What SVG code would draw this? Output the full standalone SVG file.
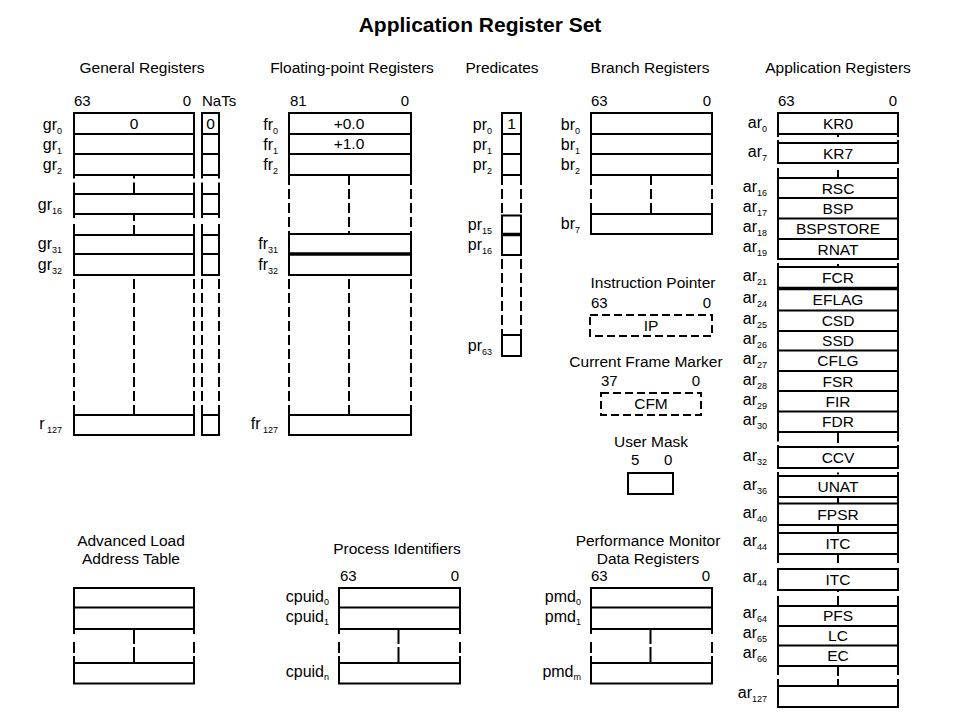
<svg xmlns="http://www.w3.org/2000/svg" width="960" height="720" viewBox="0 0 960 720">
<style>
.b{fill:none;stroke:#000;stroke-width:2}
.k{fill:none;stroke:#000;stroke-width:3.5}
.d{fill:none;stroke:#000;stroke-width:2;stroke-dasharray:10 4}
.db{fill:none;stroke:#000;stroke-width:2;stroke-dasharray:8 4}
text{font-family:"Liberation Sans",Arial,sans-serif;fill:#000}
.h{font-size:15.5px;text-anchor:middle}
.n{font-size:15px}
.e{text-anchor:end}
.l{font-size:16px;text-anchor:end}
.s{font-size:9px}
.c{font-size:15.5px;text-anchor:middle}
</style>
<rect width="960" height="720" fill="#fff"/>
<text x="480" y="32" font-size="21" font-weight="bold" text-anchor="middle">Application Register Set</text>

<g id="general-registers">
<text class="h" x="142" y="73">General Registers</text>
<text class="n" x="74" y="106">63</text>
<text class="n e" x="191" y="106">0</text>
<text class="n" x="202" y="106">NaTs</text>
<rect class="b" x="74" y="113" width="120" height="62"/>
<path class="b" d="M74 134H194M74 154H194"/>
<path class="b" d="M74 175V178.5M74 182.5V194M134 175V178.5M134 182.5V194M194 175V178.5M194 182.5V194"/>
<rect class="b" x="74" y="194" width="120" height="20"/>
<path class="b" d="M74 214V218M74 224V235M134 214V221M134 225V235M194 214V218M194 224V235"/>
<rect class="b" x="74" y="235" width="120" height="40"/>
<path class="b" d="M74 254H194"/>
<path class="d" d="M74 279V415M134 279V415M194 279V415"/>
<rect class="b" x="74" y="415" width="120" height="20"/>
<text class="c" x="134" y="129">0</text>
<rect class="b" x="202" y="113" width="17" height="62"/>
<path class="b" d="M202 134H219M202 154H219"/>
<path class="b" d="M202 175V178.5M202 182.5V194M219 175V178.5M219 182.5V194"/>
<rect class="b" x="202" y="194" width="17" height="20"/>
<path class="b" d="M202 214V218M202 224V235M219 214V218M219 224V235"/>
<rect class="b" x="202" y="235" width="17" height="40"/>
<path class="b" d="M202 254H219"/>
<path class="d" d="M202 279V415M219 279V415"/>
<rect class="b" x="202" y="415" width="17" height="20"/>
<text class="c" x="210.5" y="129">0</text>
<text class="l" x="62" y="130">gr<tspan class="s" dy="3.5">0</tspan></text>
<text class="l" x="62" y="150">gr<tspan class="s" dy="3.5">1</tspan></text>
<text class="l" x="62" y="170">gr<tspan class="s" dy="3.5">2</tspan></text>
<text class="l" x="62" y="210">gr<tspan class="s" dy="3.5">16</tspan></text>
<text class="l" x="62" y="249">gr<tspan class="s" dy="3.5">31</tspan></text>
<text class="l" x="62" y="270">gr<tspan class="s" dy="3.5">32</tspan></text>
<text class="l" x="62" y="429">r<tspan class="s" dy="3.5"> 127</tspan></text>
</g>

<g id="floating-point-registers">
<text class="h" x="352" y="73">Floating-point Registers</text>
<text class="n" x="290" y="106">81</text>
<text class="n e" x="409" y="106">0</text>
<rect class="b" x="289" y="113" width="122" height="62"/>
<path class="b" d="M289 134H411M289 154H411"/>
<path class="d" d="M289 175V234M349 175V234M411 175V234"/>
<rect class="b" x="289" y="234" width="122" height="41"/>
<path class="k" d="M289 254H411"/>
<path class="d" d="M289 279V415M349 279V415M411 279V415"/>
<rect class="b" x="289" y="415" width="122" height="20"/>
<text class="c" x="349" y="129">+0.0</text>
<text class="c" x="349" y="149">+1.0</text>
<text class="l" x="278" y="130">fr<tspan class="s" dy="3.5">0</tspan></text>
<text class="l" x="278" y="150">fr<tspan class="s" dy="3.5">1</tspan></text>
<text class="l" x="278" y="170">fr<tspan class="s" dy="3.5">2</tspan></text>
<text class="l" x="278" y="249">fr<tspan class="s" dy="3.5">31</tspan></text>
<text class="l" x="278" y="270">fr<tspan class="s" dy="3.5">32</tspan></text>
<text class="l" x="278" y="429">fr<tspan class="s" dy="3.5"> 127</tspan></text>
</g>

<g id="predicates">
<text class="h" x="502" y="73">Predicates</text>
<rect class="b" x="502" y="113" width="19" height="62"/>
<path class="b" d="M502 134H521M502 154H521"/>
<path class="d" d="M502 175V215.5M521 175V215.5"/>
<rect class="b" x="502" y="215.5" width="19" height="39.5"/>
<path class="k" d="M502 234.5H521"/>
<path class="d" d="M502 259V335M521 259V335"/>
<rect class="b" x="502" y="335" width="19" height="21"/>
<text class="c" x="511.5" y="129">1</text>
<text class="l" x="492" y="130">pr<tspan class="s" dy="3.5">0</tspan></text>
<text class="l" x="492" y="150">pr<tspan class="s" dy="3.5">1</tspan></text>
<text class="l" x="492" y="170">pr<tspan class="s" dy="3.5">2</tspan></text>
<text class="l" x="492" y="230">pr<tspan class="s" dy="3.5">15</tspan></text>
<text class="l" x="492" y="250">pr<tspan class="s" dy="3.5">16</tspan></text>
<text class="l" x="492" y="351">pr<tspan class="s" dy="3.5">63</tspan></text>
</g>

<g id="branch-registers">
<text class="h" x="650" y="73">Branch Registers</text>
<text class="n" x="591" y="106">63</text>
<text class="n e" x="711" y="106">0</text>
<rect class="b" x="591" y="113" width="121" height="62"/>
<path class="b" d="M591 134H712M591 154H712"/>
<path class="d" d="M591 175V214M651 175V214M712 175V214"/>
<rect class="b" x="591" y="214" width="121" height="20"/>
<text class="l" x="580" y="130">br<tspan class="s" dy="3.5">0</tspan></text>
<text class="l" x="580" y="150">br<tspan class="s" dy="3.5">1</tspan></text>
<text class="l" x="580" y="170">br<tspan class="s" dy="3.5">2</tspan></text>
<text class="l" x="580" y="229">br<tspan class="s" dy="3.5">7</tspan></text>
</g>

<g id="instruction-pointer">
<text class="h" x="653" y="288">Instruction Pointer</text>
<text class="n" x="591" y="308">63</text>
<text class="n e" x="711" y="308">0</text>
<rect class="db" x="590" y="315" width="122" height="21"/>
<text class="c" x="651" y="331">IP</text>
</g>

<g id="current-frame-marker">
<text class="h" x="646" y="367">Current Frame Marker</text>
<text class="n" x="601" y="386">37</text>
<text class="n e" x="700" y="386">0</text>
<rect class="db" x="601" y="393" width="100" height="22"/>
<text class="c" x="651" y="409">CFM</text>
</g>

<g id="user-mask">
<text class="h" x="651" y="447">User Mask</text>
<text class="n" x="631" y="465">5</text>
<text class="n" x="664" y="465">0</text>
<rect class="b" x="628" y="473" width="45" height="21"/>
</g>

<g id="application-registers">
<text class="h" x="838" y="73">Application Registers</text>
<text class="n" x="778" y="106">63</text>
<text class="n e" x="897" y="106">0</text>
<rect class="b" x="778" y="113" width="120" height="21"/>
<path class="b" d="M778 134V137M898 134V137M838 134V137M778 140V143M898 140V143"/>
<rect class="b" x="778" y="143" width="120" height="20"/>
<path class="b" d="M778 168V178M898 168V178M838 170V178"/>
<rect class="b" x="778" y="178" width="120" height="81"/>
<path class="b" d="M778 198H898M778 218.5H898M778 239H898"/>
<path class="b" d="M778 259V260M898 259V260M778 263V267M898 263V267M838 264V267"/>
<rect class="b" x="778" y="267" width="120" height="165"/>
<path class="k" d="M778 288.5H898"/>
<path class="b" d="M778 310.5H898M778 331H898M778 350.5H898M778 371H898M778 391H898M778 411.5H898"/>
<path class="b" d="M778 432V441.5M898 432V441.5M838 432V443M778 445V447M898 445V447"/>
<rect class="b" x="778" y="447" width="120" height="21"/>
<path class="b" d="M778 472V476M898 472V476M838 472.5V474.5"/>
<rect class="b" x="778" y="476" width="120" height="49"/>
<path class="b" d="M778 497H898M778 503.5H898M838 497V503.5"/>
<path class="b" d="M778 525V533M898 525V533M838 525V533"/>
<rect class="b" x="778" y="533" width="120" height="21"/>
<path class="b" d="M778 554V563M898 554V563M838 554V563"/>
<rect class="b" x="778" y="569" width="120" height="21"/>
<path class="b" d="M838 590V592M778 596V606M898 596V606M838 596V606"/>
<rect class="b" x="778" y="606" width="120" height="60"/>
<path class="b" d="M778 626H898M778 645.5H898"/>
<path class="b" d="M778 666V675M898 666V675M838 667V676M778 679V686M898 679V686M838 679V686"/>
<rect class="b" x="778" y="686" width="120" height="21"/>
<text class="c" x="838" y="129">KR0</text>
<text class="c" x="838" y="158.5">KR7</text>
<text class="c" x="838" y="193.5">RSC</text>
<text class="c" x="838" y="213.5">BSP</text>
<text class="c" x="838" y="234">BSPSTORE</text>
<text class="c" x="838" y="254.5">RNAT</text>
<text class="c" x="838" y="282.5">FCR</text>
<text class="c" x="838" y="305">EFLAG</text>
<text class="c" x="838" y="326">CSD</text>
<text class="c" x="838" y="346">SSD</text>
<text class="c" x="838" y="366">CFLG</text>
<text class="c" x="838" y="386.5">FSR</text>
<text class="c" x="838" y="406.5">FIR</text>
<text class="c" x="838" y="427">FDR</text>
<text class="c" x="838" y="463">CCV</text>
<text class="c" x="838" y="492">UNAT</text>
<text class="c" x="838" y="520">FPSR</text>
<text class="c" x="838" y="549">ITC</text>
<text class="c" x="838" y="585">ITC</text>
<text class="c" x="838" y="621">PFS</text>
<text class="c" x="838" y="641">LC</text>
<text class="c" x="838" y="661">EC</text>
<text class="l" x="767" y="128">ar<tspan class="s" dy="3.5">0</tspan></text>
<text class="l" x="767" y="157">ar<tspan class="s" dy="3.5">7</tspan></text>
<text class="l" x="767" y="192">ar<tspan class="s" dy="3.5">16</tspan></text>
<text class="l" x="767" y="212">ar<tspan class="s" dy="3.5">17</tspan></text>
<text class="l" x="767" y="232">ar<tspan class="s" dy="3.5">18</tspan></text>
<text class="l" x="767" y="252">ar<tspan class="s" dy="3.5">19</tspan></text>
<text class="l" x="767" y="281">ar<tspan class="s" dy="3.5">21</tspan></text>
<text class="l" x="767" y="303">ar<tspan class="s" dy="3.5">24</tspan></text>
<text class="l" x="767" y="324">ar<tspan class="s" dy="3.5">25</tspan></text>
<text class="l" x="767" y="344">ar<tspan class="s" dy="3.5">26</tspan></text>
<text class="l" x="767" y="364">ar<tspan class="s" dy="3.5">27</tspan></text>
<text class="l" x="767" y="385">ar<tspan class="s" dy="3.5">28</tspan></text>
<text class="l" x="767" y="405">ar<tspan class="s" dy="3.5">29</tspan></text>
<text class="l" x="767" y="425">ar<tspan class="s" dy="3.5">30</tspan></text>
<text class="l" x="767" y="461">ar<tspan class="s" dy="3.5">32</tspan></text>
<text class="l" x="767" y="490">ar<tspan class="s" dy="3.5">36</tspan></text>
<text class="l" x="767" y="518">ar<tspan class="s" dy="3.5">40</tspan></text>
<text class="l" x="767" y="546">ar<tspan class="s" dy="3.5">44</tspan></text>
<text class="l" x="767" y="582">ar<tspan class="s" dy="3.5">44</tspan></text>
<text class="l" x="767" y="618">ar<tspan class="s" dy="3.5">64</tspan></text>
<text class="l" x="767" y="638">ar<tspan class="s" dy="3.5">65</tspan></text>
<text class="l" x="767" y="658">ar<tspan class="s" dy="3.5">66</tspan></text>
<text class="l" x="767" y="698">ar<tspan class="s" dy="3.5">127</tspan></text>
</g>

<g id="advanced-load-address-table">
<text class="h" x="131" y="546">Advanced Load</text>
<text class="h" x="131" y="564">Address Table</text>
<rect class="b" x="74" y="588" width="120" height="41"/>
<path class="b" d="M74 607.5H194"/>
<path class="b" d="M74 629V634M74 642V653M74 656V663M194 629V634M194 642V653M194 656V663M134 629V644M134 647V663"/>
<rect class="b" x="74" y="663" width="120" height="20.5"/>
</g>

<g id="process-identifiers">
<text class="h" x="397" y="554">Process Identifiers</text>
<text class="n" x="340" y="581">63</text>
<text class="n e" x="459" y="581">0</text>
<rect class="b" x="339" y="588" width="121" height="41"/>
<path class="b" d="M339 607.5H460"/>
<path class="b" d="M339 629V634M339 642V653M339 656V663M460 629V634M460 642V653M460 656V663M398.5 629V644M398.5 647V663"/>
<rect class="b" x="339" y="663" width="121" height="20.5"/>
<text class="l" x="329" y="601.5">cpuid<tspan class="s" dy="3.5">0</tspan></text>
<text class="l" x="329" y="621.5">cpuid<tspan class="s" dy="3.5">1</tspan></text>
<text class="l" x="329" y="676.5">cpuid<tspan class="s" dy="3.5">n</tspan></text>
</g>

<g id="performance-monitor-data-registers">
<text class="h" x="648" y="546">Performance Monitor</text>
<text class="h" x="648" y="564">Data Registers</text>
<text class="n" x="591" y="581">63</text>
<text class="n e" x="710" y="581">0</text>
<rect class="b" x="591" y="588" width="121" height="41"/>
<path class="b" d="M591 607.5H712"/>
<path class="b" d="M591 629V634M591 642V653M591 656V663M712 629V634M712 642V653M712 656V663M650.5 629V644M650.5 647V663"/>
<rect class="b" x="591" y="663" width="121" height="20.5"/>
<text class="l" x="581" y="601.5">pmd<tspan class="s" dy="3.5">0</tspan></text>
<text class="l" x="581" y="621.5">pmd<tspan class="s" dy="3.5">1</tspan></text>
<text class="l" x="581" y="676.5">pmd<tspan class="s" dy="3.5">m</tspan></text>
</g>

<g id="connectors"></g>
</svg>
